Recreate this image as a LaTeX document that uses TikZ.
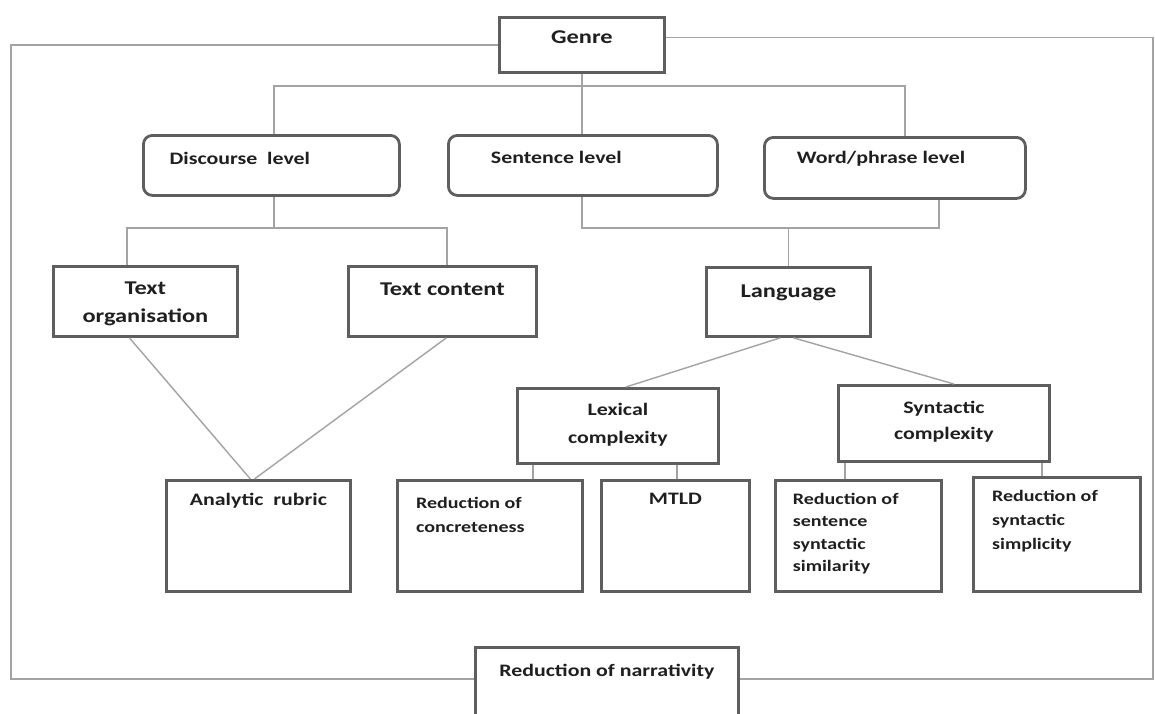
\documentclass[tikz,border=0pt]{standalone}
\usepackage{fontspec}
\setmainfont{Carlito}
\definecolor{boxline}{rgb}{0.37,0.37,0.37}
\definecolor{linkgray}{rgb}{0.64,0.64,0.64}
\definecolor{inkblack}{rgb}{0.12,0.12,0.12}
% width, height, first baseline, text (stretched like the scanned figure)
\newcommand{\btext}[4]{\scalebox{1.25}[1]{\parbox[c][#2][t]{\dimexpr#1*4/5\relax}{\centering\rule{0pt}{#3}#4}}}
\tikzset{
  box/.style={draw=boxline,line width=2.8pt,inner sep=0pt,anchor=north west,text=inkblack},
  roundbox/.style={box,rounded corners=9pt},
  bigtext/.style={font=\fontsize{19.5}{28}\selectfont\bfseries},
  midtext/.style={font=\fontsize{17.5}{27}\selectfont\bfseries},
  smalltext/.style={font=\fontsize{16}{24}\selectfont\bfseries},
  link/.style={draw=linkgray,line width=1.4pt}
}
\begin{document}
\begin{tikzpicture}[x=1pt,y=-1pt]
    \useasboundingbox (0,0) rectangle (1155,713);
    \fill[white] (0,0) rectangle (1155,713);
    \clip (0,0) rectangle (1155,713);
    % Boxes
    \node[box,bigtext] (genre) at (498,16) {\btext{165pt}{55pt}{26pt}{Genre}};
    \node[roundbox,midtext] (disc) at (142,134) {\btext{256pt}{60pt}{29pt}{\raggedright\leftskip=21pt Discourse~ level}};
    \node[roundbox,midtext] (sent) at (447,134) {\btext{269pt}{60pt}{28pt}{\raggedright\leftskip=34pt Sentence level}};
    \node[roundbox,midtext] (word) at (763,136) {\btext{261pt}{61pt}{26pt}{\raggedright\leftskip=26pt Word/phrase level}};
    \node[box,bigtext] (org) at (52,265) {\btext{184pt}{70pt}{28pt}{Text\\organisation}};
    \node[box,bigtext] (cont) at (347,265) {\btext{188pt}{70pt}{29pt}{Text content}};
    \node[box,bigtext] (lang) at (705,266) {\btext{164pt}{69pt}{30pt}{Language}};
    \node[box,midtext] (lex) at (516,387) {\btext{201pt}{75pt}{27pt}{\baselineskip=28pt Lexical\\complexity}};
    \node[box,midtext] (syn) at (837,384) {\btext{211pt}{76pt}{28pt}{\baselineskip=26pt Syntactic\\complexity}};
    \node[box,midtext] (ana) at (165,479) {\btext{184pt}{111pt}{25pt}{Analytic~ rubric}};
    \node[box,smalltext] (conc) at (396,479) {\btext{185pt}{111pt}{28pt}{\raggedright\leftskip=15pt Reduction of\\concreteness}};
    \node[box,midtext] (mtld) at (600,479) {\btext{148pt}{111pt}{24pt}{MTLD}};
    \node[box,smalltext] (simil) at (774,479) {\btext{166pt}{111pt}{24pt}{\raggedright\leftskip=14pt\baselineskip=22.5pt Reduction of\\sentence\\syntactic\\similarity}};
    \node[box,smalltext] (simpl) at (972,476) {\btext{167pt}{114pt}{24pt}{\raggedright\leftskip=15pt Reduction of\\syntactic\\simplicity}};
    \node[box,midtext] (narr) at (474,646) {\btext{263pt}{100pt}{29pt}{Reduction of narrativity}};
    % Frame round the tree
    \coordinate (fl) at (11,679);
    \coordinate (fr) at (1153,679);
    \draw[link] (genre.west) -| (fl) -- (fl -| narr.west);
    \draw[link] ([yshift=7.5pt]genre.east) -| (fr) -- (fr -| narr.east);
    % Genre to levels
    \coordinate (b1) at (274,86);
    \coordinate (b2) at (905,86);
    \draw[link] (genre.south) -- (genre.south |- sent.north);
    \draw[link] (b1 |- disc.north) -- (b1) -- (b2) -- (b2 |- word.north);
    % Discourse level
    \coordinate (d1) at (127,228);
    \coordinate (d2) at (447,228);
    \draw[link] (b1 |- disc.south) -- (b1 |- d1);
    \draw[link] (d1 |- org.north) -- (d1) -- (d2) -- (d2 |- cont.north);
    \draw[link] ([xshift=-16pt]org.south) -- ([xshift=-8pt]ana.north);
    \draw[link] ([xshift=4pt]cont.south) -- ([xshift=-4pt]ana.north);
    % Sentence and word level
    \coordinate (s1) at (582,228);
    \coordinate (s2) at (939,228);
    \draw[link] (s1 |- sent.south) -- (s1) -- (s2) -- (s2 |- word.south);
    \draw[link] (lang.north |- s1) -- (lang.north);
    \draw[link] ([xshift=-8pt]lang.south) -- ([xshift=8pt]lex.north);
    \draw[link] ([xshift=5pt]lang.south) -- ([xshift=10pt]syn.north);
    % Complexity measures
    \coordinate (c1) at (533,0);
    \coordinate (c2) at (677,0);
    \coordinate (c3) at (845,0);
    \coordinate (c4) at (1042,0);
    \draw[link] (c1 |- lex.south) -- (c1 |- conc.north);
    \draw[link] (c2 |- lex.south) -- (c2 |- mtld.north);
    \draw[link] (c3 |- syn.south) -- (c3 |- simil.north);
    \draw[link] (c4 |- syn.south) -- (c4 |- simpl.north);
\end{tikzpicture}
\end{document}
